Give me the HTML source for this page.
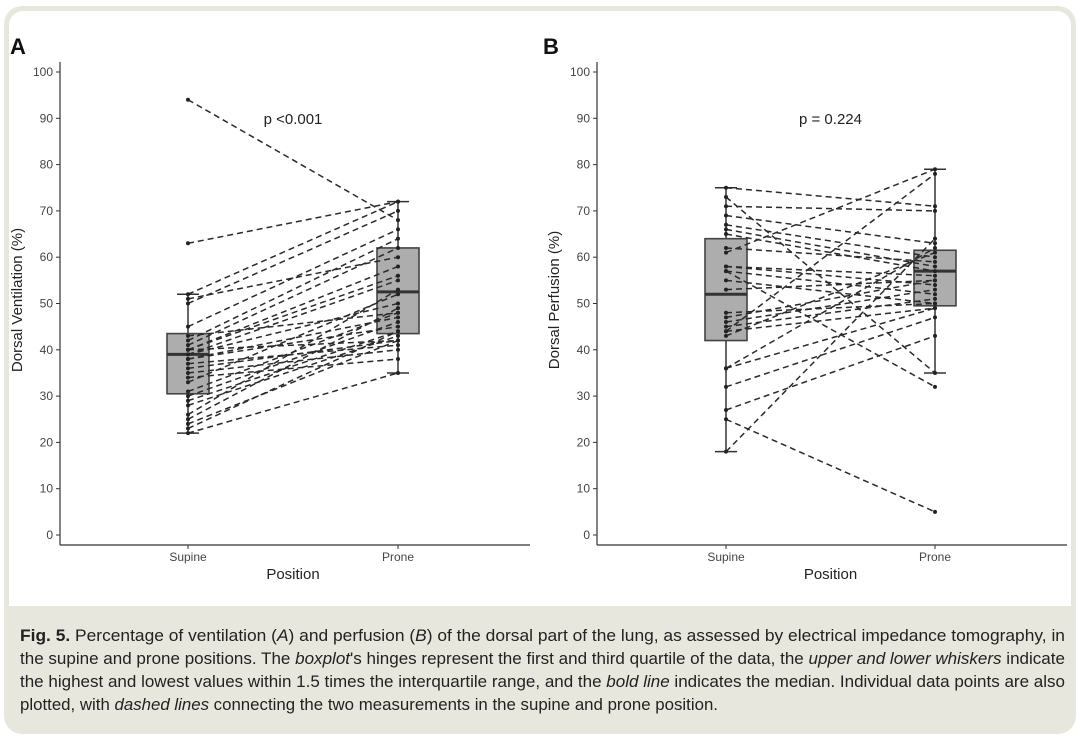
<!DOCTYPE html>
<html><head><meta charset="utf-8"><style>
html,body{margin:0;padding:0;background:#fff}
svg{display:block;font-family:"Liberation Sans",sans-serif}
</style></head><body>
<svg id="fig" width="1080" height="740" viewBox="0 0 1080 740" xmlns="http://www.w3.org/2000/svg">
<rect x="0" y="0" width="1080" height="740" fill="#ffffff"/>
<rect x="4" y="6" width="1072" height="728" rx="18" fill="#e8e7de"/>
<rect x="9" y="11" width="1062" height="595" rx="14" fill="#ffffff"/>
<rect x="9" y="590" width="1062" height="16" fill="#ffffff"/>
<g id="panelA"></g>
<g id="panelB"></g>
<g font-size="16.5" fill="#222">
<text x="20" y="641" textLength="1045" lengthAdjust="spacingAndGlyphs"><tspan font-weight="bold">Fig. 5.</tspan> Percentage of ventilation (<tspan font-style="italic">A</tspan>) and perfusion (<tspan font-style="italic">B</tspan>) of the dorsal part of the lung, as assessed by electrical impedance tomography, in</text>
<text x="20" y="664" textLength="1045" lengthAdjust="spacingAndGlyphs">the supine and prone positions. The <tspan font-style="italic">boxplot</tspan>'s hinges represent the first and third quartile of the data, the <tspan font-style="italic">upper and lower whiskers</tspan> indicate</text>
<text x="20" y="687" textLength="1045" lengthAdjust="spacingAndGlyphs">the highest and lowest values within 1.5 times the interquartile range, and the <tspan font-style="italic">bold line</tspan> indicates the median. Individual data points are also</text>
<text x="20" y="710" textLength="698" lengthAdjust="spacingAndGlyphs">plotted, with <tspan font-style="italic">dashed lines</tspan> connecting the two measurements in the supine and prone position.</text>
</g>
</svg>
<script>
const categories = ["Supine","Prone"];
const yTicks = [0,10,20,30,40,50,60,70,80,90,100];
// Panel A: ventilation pairs [supine, prone]
const ventSupine = [94,63,52,51,50,45,42,41,40,40,39,39,38,38,37,36,35,34,33,31,30,29,28,26,25,24,23,22,40,43];
const ventProne  = [68,72,72,60,70,66,64,62,58,56,55,50,47,45,41,42,40,38,52,48,46,44,43,53,49,42,44,35,42,48];
const ventBoxSupine = [22,30.5,39,43.5,52];
const ventBoxProne  = [35,43.5,52.5,62,72];
// Panel B: perfusion pairs
const perfSupine = [75,73,71,69,67,66,65,61,58,58,57,53,48,46,45,44,44,43,36,36,32,27,25,18,57,62,55,47];
const perfProne  = [71,35,70,63,60,58,57,79,54,56,52,55,50,53,51,49,78,61,49,62,47,43,5,64,32,59,50,55];
const perfBoxSupine = [18,42,52,64,75];
const perfBoxProne  = [35,49.5,57,61.5,79];

const NS="http://www.w3.org/2000/svg";
function mk(tag,attrs,parent){const e=document.createElementNS(NS,tag);for(const k in attrs)e.setAttribute(k,attrs[k]);parent.appendChild(e);return e;}

function drawPanel(g,opt){
  const yS=v=>535-v*4.63;
  const xS=i=>opt.x0+ (i===0?opt.sx:opt.px);
  const ax=opt.axisX;
  let l=mk('line',{x1:ax,y1:62,x2:ax,y2:545,stroke:'#333','stroke-width':1.2},g);
  
  
  l=mk('line',{x1:ax,y1:545,x2:ax+470,y2:545,stroke:'#333','stroke-width':1.2},g);
  
  
  yTicks.forEach(t=>{
    const tk=mk('line',{x1:ax-4,y1:yS(t),x2:ax,y2:yS(t),stroke:'#333'},g);
    
    
    const tx=mk('text',{x:ax-7,y:yS(t)+4,'text-anchor':'end','font-size':12,fill:'#444'},g);
    tx.textContent=t;
    
    
  });
  categories.forEach((c,i)=>{
    const tk=mk('line',{x1:xS(i),y1:545,x2:xS(i),y2:549,stroke:'#333'},g);
    
    
    const tx=mk('text',{x:xS(i),y:561,'text-anchor':'middle','font-size':12,fill:'#444'},g);
    tx.textContent=c;
    
    
  });
  let t=mk('text',{x:xS(0)+ (xS(1)-xS(0))/2,y:579,'text-anchor':'middle','font-size':15,fill:'#222'},g);
  t.textContent='Position';
  
  
  t=mk('text',{x:0,y:0,'text-anchor':'middle','font-size':15,fill:'#222',transform:`translate(${ax-38},300) rotate(-90)`},g);
  t.textContent=opt.ytitle;
  
  
  t=mk('text',{x:opt.labelX,y:54,'font-size':22,'font-weight':'bold',fill:'#111'},g);
  t.textContent=opt.label;
  
  
  t=mk('text',{x:xS(0)+(xS(1)-xS(0))/2,y:124,'text-anchor':'middle','font-size':15,fill:'#222'},g);
  t.textContent=opt.p;
  
  
  [opt.boxS,opt.boxP].forEach((b,i)=>{
    const cx=xS(i);
    const bg=mk('g',{},g);
    
    
    mk('line',{x1:cx,y1:yS(b[0]),x2:cx,y2:yS(b[4]),stroke:'#333','stroke-width':1.5},bg);
    mk('line',{x1:cx-11,y1:yS(b[0]),x2:cx+11,y2:yS(b[0]),stroke:'#333','stroke-width':1.5},bg);
    mk('line',{x1:cx-11,y1:yS(b[4]),x2:cx+11,y2:yS(b[4]),stroke:'#333','stroke-width':1.5},bg);
    mk('rect',{x:cx-21,y:yS(b[3]),width:42,height:yS(b[1])-yS(b[3]),fill:'#adadad',stroke:'#444','stroke-width':1.6},bg);
    mk('line',{x1:cx-21,y1:yS(b[2]),x2:cx+21,y2:yS(b[2]),stroke:'#333','stroke-width':3},bg);
  });
  opt.s.forEach((v,k)=>{
    const ln=mk('line',{x1:xS(0),y1:yS(v),x2:xS(1),y2:yS(opt.pr[k]),stroke:'#2a2a2a','stroke-width':1.5,'stroke-dasharray':'6,4'},g);
    
    
  });
  opt.s.forEach((v,k)=>{
    [[0,v],[1,opt.pr[k]]].forEach(([i,val])=>{
      const c=mk('circle',{cx:xS(i),cy:yS(val),r:2,fill:'#222'},g);
      
      
    });
  });
}
drawPanel(document.getElementById('panelA'),{x0:0,sx:188,px:398,axisX:60,labelX:10,label:'A',p:'p <0.001',ytitle:'Dorsal Ventilation (%)',s:ventSupine,pr:ventProne,boxS:ventBoxSupine,boxP:ventBoxProne});
drawPanel(document.getElementById('panelB'),{x0:0,sx:726,px:935,axisX:597,labelX:543,label:'B',p:'p = 0.224',ytitle:'Dorsal Perfusion (%)',s:perfSupine,pr:perfProne,boxS:perfBoxSupine,boxP:perfBoxProne});
</script>
</body></html>
